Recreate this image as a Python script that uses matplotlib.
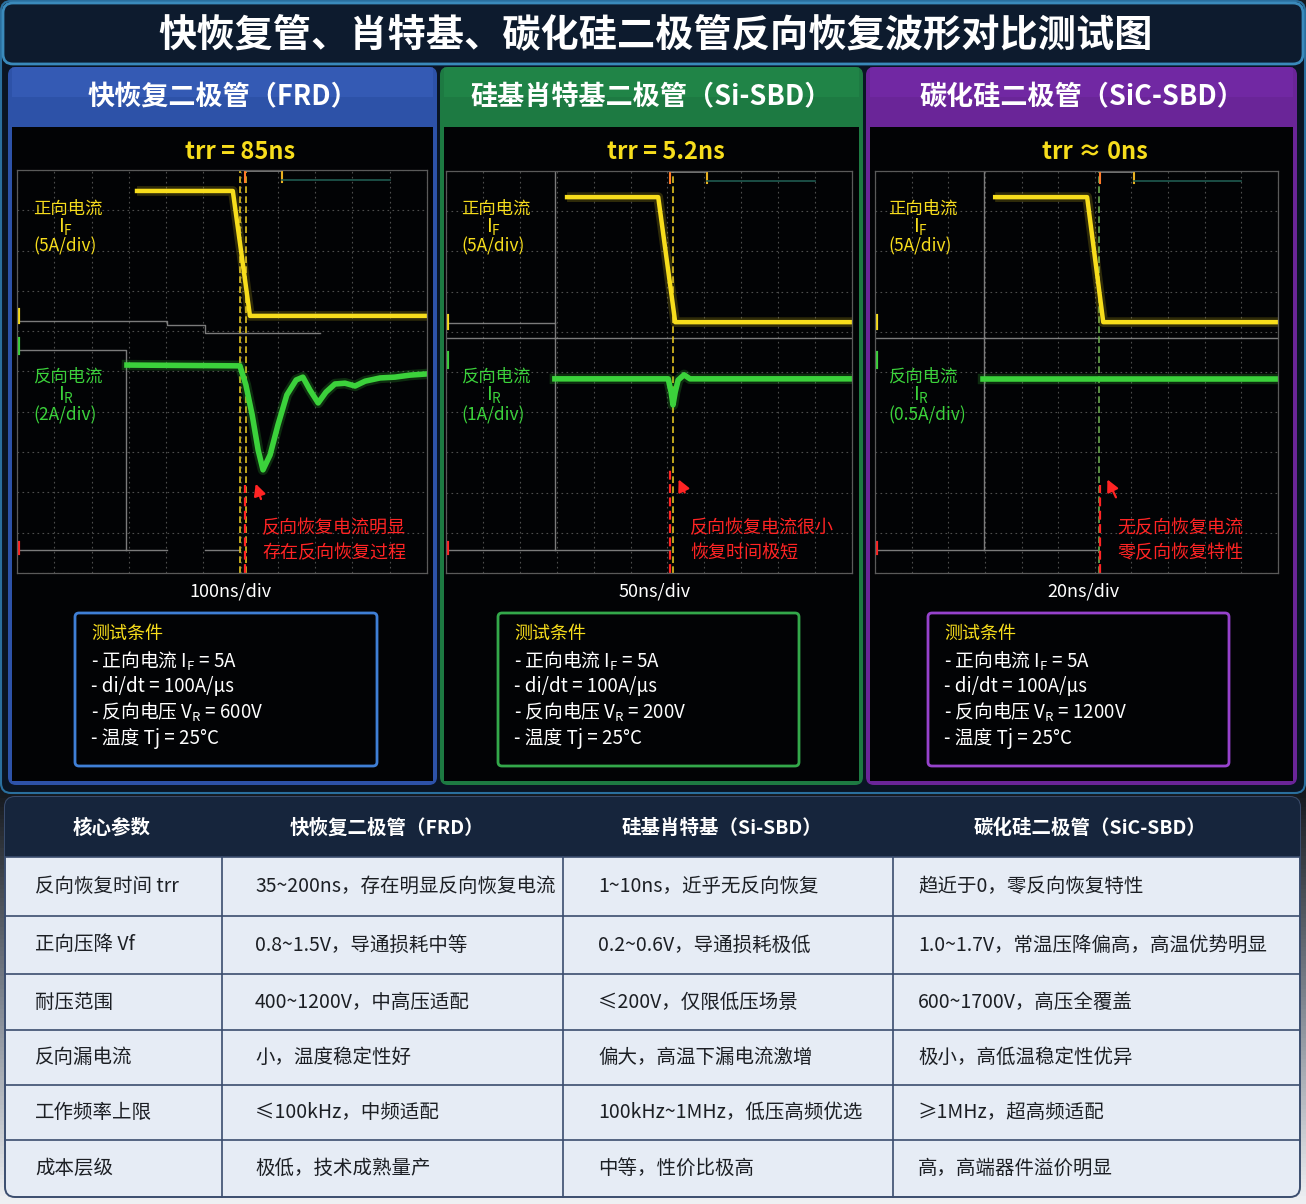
import numpy as np
import matplotlib
matplotlib.use("Agg")
import matplotlib.pyplot as plt
from matplotlib.patches import FancyBboxPatch, Rectangle

plt.rcParams['font.family'] = ['Noto Sans CJK SC', 'DejaVu Sans']
plt.rcParams['mathtext.fontset'] = 'custom'
plt.rcParams['mathtext.rm'] = 'Noto Sans CJK SC'
plt.rcParams['mathtext.it'] = 'Noto Sans CJK SC'
plt.rcParams['mathtext.bf'] = 'Noto Sans CJK SC:bold'

nan = np.nan
# ---------------- text data ----------------
title = "快恢复管、肖特基、碳化硅二极管反向恢复波形对比测试图"
panel_titles = ["快恢复二极管（FRD）", "硅基肖特基二极管（Si-SBD）", "碳化硅二极管（SiC-SBD）"]
trr_labels = ["trr = 85ns", "trr = 5.2ns", "trr ≈ 0ns"]
time_div_labels = ["100ns/div", "50ns/div", "20ns/div"]
if_div_labels = ["(5A/div)", "(5A/div)", "(5A/div)"]
ir_div_labels = ["(2A/div)", "(1A/div)", "(0.5A/div)"]
note_lines = [["反向恢复电流明显", "存在反向恢复过程"],
              ["反向恢复电流很小", "恢复时间极短"],
              ["无反向恢复电流", "零反向恢复特性"]]
cond_if = ["5A", "5A", "5A"]
cond_didt = ["100A/μs", "100A/μs", "100A/μs"]
cond_vr = ["600V", "200V", "1200V"]
cond_tj = ["25°C", "25°C", "25°C"]

# ---------------- waveform data (screen divisions: x 0-11, y 0-10) ----------------
frd_if_x = [3.22, 5.79, 6.25, 11.0]
frd_if_y = [9.48, 9.48, 6.38, 6.38]
frd_ir_x = [2.95, 5.98, 6.14, 6.31, 6.47, 6.60, 6.79, 7.00, 7.24, 7.49, 7.67, 7.86,
            8.08, 8.29, 8.53, 8.80, 9.07, 9.34, 9.74, 10.14, 10.54, 11.0]
frd_ir_y = [5.16, 5.14, 4.67, 3.92, 3.05, 2.56, 2.93, 3.67, 4.42, 4.79, 4.86, 4.54,
            4.22, 4.49, 4.69, 4.71, 4.64, 4.76, 4.84, 4.86, 4.91, 4.94]
sbd_if_x = [3.28, 5.75, 6.21, 11.0]
sbd_if_y = [9.35, 9.35, 6.24, 6.24]
sbd_ir_x = [2.95, 6.02, 6.10, 6.15, 6.21, 6.29, 6.45, 6.61, 11.0]
sbd_ir_y = [4.83, 4.83, 4.50, 4.18, 4.50, 4.80, 4.93, 4.83, 4.83]
sic_if_x = [3.28, 5.79, 6.23, 11.0]
sic_if_y = [9.35, 9.35, 6.24, 6.24]
sic_ir_x = [2.95, 11.0]
sic_ir_y = [4.83, 4.83]

# faint reference traces on the scope screens
frd_ref_x = [0, 4.02, 4.02, 5.04, 5.04, 8.13, nan, 0, 2.92, 2.92, nan, 0, 4.02, nan, 5.04, 5.98]
frd_ref_y = [6.25, 6.25, 6.15, 6.15, 5.95, 5.95, nan, 5.53, 5.53, 0.57, nan, 0.57, 0.57, nan, 0.57, 0.57]
sbd_ref_x = [0, 2.95, nan, 2.95, 2.95, nan, 0, 11, nan, 0, 6.07]
sbd_ref_y = [6.22, 6.22, nan, 10, 0.57, nan, 5.85, 5.85, nan, 0.57, 0.57]
sic_ref_x = [2.98, 2.98, nan, 0, 11, nan, 0, 6.07]
sic_ref_y = [10, 0.57, nan, 5.85, 5.85, nan, 0.57, 0.57]

# cursors
yellow_cursors = [[5.98, 6.14], [6.15], [6.12]]
red_cursor_x = [6.12, 6.07, 6.15]
red_cursor_top = [2.18, 2.61, 2.19]
trr_bracket = [[6.12, 7.11], [6.07, 7.07], [6.15, 7.08]]
arrow_head = [(6.38, 2.28), (6.27, 2.39), (6.31, 2.39)]
arrow_tail = [(6.57, 1.77), (6.50, 1.94), (6.61, 1.82)]

# ---------------- table data ----------------
table_headers = ["核心参数", "快恢复二极管（FRD）", "硅基肖特基（Si-SBD）", "碳化硅二极管（SiC-SBD）"]
params = ["反向恢复时间 trr", "正向压降 Vf", "耐压范围", "反向漏电流", "工作频率上限", "成本层级"]
frd_col = ["35~200ns，存在明显反向恢复电流", "0.8~1.5V，导通损耗中等", "400~1200V，中高压适配",
           "小，温度稳定性好", "≤100kHz，中频适配", "极低，技术成熟量产"]
sbd_col = ["1~10ns，近乎无反向恢复", "0.2~0.6V，导通损耗极低", "≤200V，仅限低压场景",
           "偏大，高温下漏电流激增", "100kHz~1MHz，低压高频优选", "中等，性价比极高"]
sic_col = ["趋近于0，零反向恢复特性", "1.0~1.7V，常温压降偏高，高温优势明显", "600~1700V，高压全覆盖",
           "极小，高低温稳定性优异", "≥1MHz，超高频适配", "高，高端器件溢价明显"]

# ---------------- figure ----------------
W, H = 1306, 1204
fig = plt.figure(figsize=(W / 100, H / 100), dpi=100, facecolor='#15191f')
bg = fig.add_axes([0, 0, 1, 1])
bg.set_xlim(0, W)
bg.set_ylim(H, 0)
bg.axis('off')
bg.set_zorder(0)

grad = np.linspace(0, 1, 100).reshape(-1, 1)
bg.imshow(grad, extent=[0, W, H, 790], cmap=matplotlib.colors.LinearSegmentedColormap.from_list(
    'g', ['#15191f', '#7d848e', '#eef0f3']), aspect='auto', zorder=0)


def rrect(ax, x0, y0, x1, y1, r, fc, ec='none', lw=0, z=1):
    p = FancyBboxPatch((x0 + r, y0 + r), x1 - x0 - 2 * r, y1 - y0 - 2 * r,
                       boxstyle=f"round,pad={r}", fc=fc, ec=ec, lw=lw, zorder=z)
    ax.add_patch(p)
    return p


# top section
rrect(bg, 1, 1, 1305, 793, 10, '#0a1524', '#2a6f9e', 1.5, z=1)
rrect(bg, 3, 3, 1303, 64, 10, '#0d1b2e', '#3a8abb', 2, z=2)
bg.text(656, 35, title, color='white', fontsize=27.5, fontweight='bold', ha='center', va='center', zorder=5)

panels = [(8, 437, '#2d52a8', '#3d64c4'), (440, 863, '#1d7a42', '#25914f'), (866, 1297, '#6a2598', '#7a2db2')]
for i, (x0, x1, c1, c2) in enumerate(panels):
    rrect(bg, x0, 67, x1, 785, 8, c1, z=2)
    bg.add_patch(Rectangle((x0 + 4, 67), x1 - x0 - 8, 30, fc=c2, ec='none', alpha=0.45, zorder=2))
    bg.add_patch(Rectangle((x0 + 4, 127), x1 - x0 - 8, 654, fc='#020305', ec='none', zorder=3))
    bg.text((x0 + x1) / 2, 97, panel_titles[i], color='white', fontsize=19.5, fontweight='bold',
            ha='center', va='center', zorder=5)

scope_rects = [(17, 170, 427, 573), (446, 171, 852, 573), (875, 171, 1278, 573)]
if_data = [(frd_if_x, frd_if_y), (sbd_if_x, sbd_if_y), (sic_if_x, sic_if_y)]
ir_data = [(frd_ir_x, frd_ir_y), (sbd_ir_x, sbd_ir_y), (sic_ir_x, sic_ir_y)]
ref_data = [(frd_ref_x, frd_ref_y), (sbd_ref_x, sbd_ref_y), (sic_ref_x, sic_ref_y)]
YEL = '#f7dd1c'
GRN = '#3bd23b'
RED = '#ff2424'

for i, (x0, y0, x1, y1) in enumerate(scope_rects):
    ax = fig.add_axes([x0 / W, 1 - y1 / H, (x1 - x0) / W, (y1 - y0) / H])
    ax.set_zorder(4)
    ax.set_facecolor('#020305')
    ax.set_xlim(0, 11)
    ax.set_ylim(0, 10)
    ax.set_xticks(range(12))
    ax.set_yticks(range(11))
    ax.tick_params(length=0, labelbottom=False, labelleft=False)
    ax.grid(True, color='#4d4d4d', linestyle=(0, (1.5, 3)), lw=0.8)
    for s in ax.spines.values():
        s.set_color('#5a5a5a')
        s.set_linewidth(0.9)
    rx, ry = ref_data[i]
    ax.plot(rx, ry, color='#9a9a9a', lw=1.0, alpha=0.8)
    for cx in yellow_cursors[i]:
        ax.axvline(cx, color='#e0c020' if i < 2 else '#6aa84f', lw=1.2, ls=(0, (4, 2)))
    ax.plot([red_cursor_x[i], red_cursor_x[i]], [0, red_cursor_top[i]], color=RED, lw=1.6, ls=(0, (4, 2)))
    bx = trr_bracket[i]
    ax.plot(bx, [9.98, 9.98], color='#8a8a8a', lw=1.2, clip_on=False)
    ax.plot([bx[0], bx[0]], [9.98, 9.7], color='#ff7a2a', lw=1.5)
    ax.plot([bx[1], bx[1]], [9.98, 9.7], color='#e8b020', lw=1.5)
    ax.plot([bx[1], 10.0], [9.75, 9.75], color='#1f5a50', lw=1.2)
    fx, fy = if_data[i]
    ax.plot(fx, fy, color=YEL, lw=7, alpha=0.18, solid_capstyle='butt')
    ax.plot(fx, fy, color=YEL, lw=3.2, solid_joinstyle='round')
    gx, gy = ir_data[i]
    ax.plot(gx, gy, color=GRN, lw=7.5, alpha=0.2)
    ax.plot(gx, gy, color=GRN, lw=4.0, solid_joinstyle='round')
    ax.plot([0.02, 0.02], [fy[-1] - 0.15, fy[-1] + 0.15], color=YEL, lw=3)
    ax.plot([0.02, 0.02], [gy[0] + 0.3, gy[0] + 0.65], color=GRN, lw=3)
    ax.plot([0.02, 0.02], [0.5, 0.75], color=RED, lw=3)
    ax.annotate('', xy=arrow_head[i], xytext=arrow_tail[i],
                arrowprops=dict(arrowstyle='-|>,head_length=0.7,head_width=0.35', color=RED, lw=1.6))

# overlay axes for text drawn above the scope screens
ov = fig.add_axes([0, 0, 1, 1])
ov.set_zorder(10)
ov.patch.set_alpha(0)
ov.set_xlim(0, W)
ov.set_ylim(H, 0)
ov.axis('off')

trr_x = [240, 666, 1095]
scale_x = [230, 655, 1083]
label_x = [33, 461, 888]
note_x = [262, 690, 1117]
box_x = [(75, 377, '#3f7fd6'), (498, 799, '#33a84a'), (928, 1229, '#9642cc')]
for i in range(3):
    ov.text(trr_x[i], 152, trr_labels[i], color=YEL, fontsize=17, fontweight='bold', ha='center', va='center')
    ov.text(scale_x[i], 592, time_div_labels[i], color='white', fontsize=13, ha='center', va='center')
    lx = label_x[i]
    ov.text(lx, 209, "正向电流", color=YEL, fontsize=12.5, ha='left', va='center')
    ov.text(lx + 25, 227, r"$\mathregular{I_F}$", color=YEL, fontsize=14, ha='left', va='center')
    ov.text(lx, 246, if_div_labels[i], color=YEL, fontsize=12.5, ha='left', va='center')
    ov.text(lx, 377, "反向电流", color=GRN, fontsize=12.5, ha='left', va='center')
    ov.text(lx + 25, 395, r"$\mathregular{I_R}$", color=GRN, fontsize=14, ha='left', va='center')
    ov.text(lx, 415, ir_div_labels[i], color=GRN, fontsize=12.5, ha='left', va='center')
    ov.text(note_x[i], 528, note_lines[i][0], color=RED, fontsize=13, ha='left', va='center')
    ov.text(note_x[i], 553, note_lines[i][1], color=RED, fontsize=13, ha='left', va='center')
    bx0, bx1, bc = box_x[i]
    rrect(ov, bx0, 613, bx1, 766, 4, '#020305', bc, 2, z=1)
    tx = bx0 + 16
    ov.text(tx, 634, "测试条件", color=YEL, fontsize=13, ha='left', va='center')
    lines = ["- 正向电流 $\\mathregular{I_F}$ = " + cond_if[i],
             "- di/dt = " + cond_didt[i],
             "- 反向电压 $\\mathregular{V_R}$ = " + cond_vr[i],
             "- 温度 Tj = " + cond_tj[i]]
    for k, t in enumerate(lines):
        ov.text(tx, 661 + k * 25.7, t, color='white', fontsize=13.5, ha='left', va='center')

# ---------------- table ----------------
col_edges = [5, 222, 563, 893, 1300]
row_edges = [797, 857, 916, 974, 1030, 1085, 1140, 1197]
LINE = '#3b4d6e'
rrect(bg, col_edges[0], row_edges[0], col_edges[-1], row_edges[-1], 10, '#e6ecf5', LINE, 1.4, z=2)
rrect(bg, col_edges[0], row_edges[0], col_edges[-1], row_edges[1], 10, '#16253c', z=3)
bg.add_patch(Rectangle((col_edges[0], row_edges[1] - 14), col_edges[-1] - col_edges[0], 14,
                       fc='#16253c', ec='none', zorder=3))
for y in row_edges[1:-1]:
    bg.plot([col_edges[0], col_edges[-1]], [y, y], color=LINE, lw=1.2, zorder=4)
for x in col_edges[1:-1]:
    bg.plot([x, x], [row_edges[1], row_edges[-1]], color=LINE, lw=1.2, zorder=4)

head_x = [112, 387, 722, 1090]
for j, h in enumerate(table_headers):
    bg.text(head_x[j], 828, h, color='white', fontsize=14, fontweight='bold', ha='center', va='center', zorder=6)
text_x = [35, 255, 598, 918]
cols = [params, frd_col, sbd_col, sic_col]
for r in range(len(params)):
    yc = (row_edges[r + 1] + row_edges[r + 2]) / 2
    for j in range(4):
        bg.text(text_x[j], yc, cols[j][r], color='#1c1f24', fontsize=14, ha='left', va='center', zorder=6)

fig.savefig('out.png', dpi=100, facecolor=fig.get_facecolor())
